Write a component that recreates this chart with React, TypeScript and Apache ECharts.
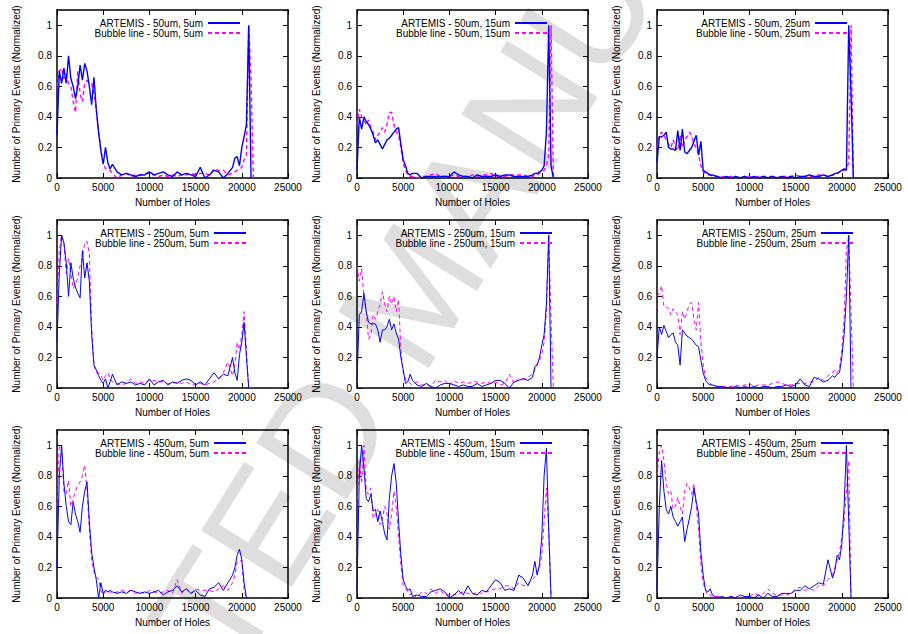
import React, { useEffect, useRef } from 'react';
import * as echarts from 'echarts';

// Number of holes (x values shared by all series)
const HOLES = [
  0, 250, 500, 750, 1000, 1250, 1500, 1750, 2000, 2250, 2500, 2750, 3000, 3250, 3500, 3750, 4000, 4250, 4500, 4750, 5000, 5250, 5500, 5750, 6000,
  6500, 7000, 7500, 8000, 8500, 9000, 9500, 10000, 10500, 11000, 11500, 12000, 12500, 13000, 13500, 14000, 14500, 15000, 15500, 16000, 16500, 17000, 17500, 18000, 18500,
  19000, 19250, 19500, 19750, 20000, 20250, 20500, 20750, 21000, 21250,
];

const DIAMETERS = [50, 250, 450];
const SPACINGS = [5, 15, 25];
const X_MAX = 25000;
const X_STEP = 5000;
const Y_MAX = 1.1;
const Y_STEP = 0.2;

// ---- 50um ----
const a50_5 = [
  0.28, 0.7, 0.62, 0.72, 0.62, 0.8, 0.65, 0.6, 0.52, 0.6, 0.74, 0.64, 0.75, 0.7, 0.6, 0.48, 0.66, 0.45, 0.3, 0.18, 0.09, 0.2, 0.1, 0.06, 0.09,
  0.04, 0.02, 0.03, 0.02, 0.01, 0.02, 0.02, 0.04, 0.02, 0.03, 0.04, 0.02, 0.01, 0.04, 0.02, 0.03, 0.02, 0.01, 0.07, 0.0, 0.02, 0.05, 0.04, 0.0, 0.03,
  0.07, 0.13, 0.14, 0.08, 0.2, 0.27, 0.35, 1.0, 0.0,
];
const b50_5 = [
  0.6, 0.7, 0.72, 0.65, 0.68, 0.62, 0.6, 0.5, 0.43, 0.7, 0.55, 0.5, 0.62, 0.64, 0.63, 0.62, 0.55, 0.45, 0.3, 0.18, 0.1, 0.06, 0.06, 0.05, 0.03,
  0.0, 0.02, 0.03, 0.01, 0.02, 0.02, 0.03, 0.03, 0.02, 0.01, 0.02, 0.01, 0.02, 0.01, 0.02, 0.02, 0.03, 0.02, 0.03, 0.03, 0.02, 0.06, 0.05, 0.05, 0.02,
  0.03, 0.04, 0.05, 0.06, 0.07, 0.12, 0.15, 1.0, 0.65, 0.0,
];
const a50_15 = [
  0.05, 0.4, 0.32, 0.4, 0.37, 0.35, 0.32, 0.28, 0.23, 0.25, 0.22, 0.19, 0.22, 0.25, 0.26, 0.28, 0.3, 0.32, 0.33, 0.22, 0.12, 0.08, 0.03, 0.02, 0.03,
  0.03, 0.0, 0.01, 0.01, 0.01, 0.01, 0.01, 0.01, 0.04, 0.02, 0.01, 0.01, 0.0, 0.02, 0.01, 0.01, 0.01, 0.02, 0.01, 0.02, 0.02, 0.01, 0.01, 0.01, 0.01,
  0.02, 0.03, 0.03, 0.04, 0.05, 0.08, 0.3, 1.0, 0.08, 0.0,
];
const b50_15 = [
  0.35, 0.45, 0.4, 0.38, 0.35, 0.38, 0.33, 0.3, 0.25, 0.28, 0.3, 0.33, 0.3, 0.35, 0.43, 0.43, 0.35, 0.3, 0.28, 0.2, 0.1, 0.05, 0.02, 0.01, 0.01,
  0.0, 0.01, 0.01, 0.02, 0.03, 0.01, 0.01, 0.01, 0.02, 0.01, 0.01, 0.01, 0.02, 0.01, 0.02, 0.02, 0.03, 0.01, 0.01, 0.01, 0.02, 0.02, 0.02, 0.02, 0.01,
  0.01, 0.02, 0.02, 0.03, 0.04, 0.05, 0.08, 0.15, 1.0, 0.0,
];
const a50_25 = [
  0.1, 0.27, 0.27, 0.28, 0.3, 0.2, 0.19, 0.19, 0.18, 0.31, 0.18, 0.32, 0.17, 0.16, 0.18, 0.2, 0.24, 0.28, 0.15, 0.24, 0.05, 0.04, 0.03, 0.02, 0.02,
  0.01, 0.0, 0.01, 0.0, 0.01, 0.0, 0.01, 0.0, 0.01, 0.0, 0.01, 0.0, 0.01, 0.0, 0.01, 0.0, 0.01, 0.0, 0.01, 0.01, 0.02, 0.01, 0.01, 0.02, 0.01,
  0.02, 0.03, 0.03, 0.04, 0.05, 0.06, 0.05, 1.0, 0.55, 0.0,
];
const b50_25 = [
  0.2, 0.28, 0.3, 0.28, 0.25, 0.22, 0.2, 0.25, 0.2, 0.18, 0.28, 0.2, 0.25, 0.27, 0.3, 0.28, 0.22, 0.2, 0.15, 0.08, 0.04, 0.03, 0.02, 0.02, 0.01,
  0.01, 0.01, 0.0, 0.01, 0.01, 0.0, 0.01, 0.01, 0.0, 0.01, 0.01, 0.01, 0.01, 0.0, 0.01, 0.01, 0.01, 0.02, 0.01, 0.01, 0.01, 0.01, 0.02, 0.02, 0.01,
  0.02, 0.02, 0.03, 0.04, 0.04, 0.05, 0.06, 0.1, 1.0, 0.0,
];

// ---- 250um ----
const a250_5 = [
  0.3, 0.75, 1.0, 0.95, 0.82, 0.6, 0.82, 0.72, 0.66, 0.62, 0.59, 0.9, 0.72, 0.82, 0.7, 0.35, 0.15, 0.12, 0.08, 0.05, 0.03, 0.06, 0.0, 0.04, 0.09,
  0.02, 0.04, 0.03, 0.04, 0.02, 0.03, 0.02, 0.06, 0.02, 0.04, 0.05, 0.02, 0.04, 0.03, 0.05, 0.06, 0.05, 0.02, 0.04, 0.02, 0.06, 0.1, 0.06, 0.09, 0.08,
  0.2, 0.1, 0.05, 0.22, 0.3, 0.43, 0.2, 0.0,
];
const b250_5 = [
  0.55, 0.9, 1.0, 0.95, 0.75, 0.85, 0.75, 0.65, 0.68, 0.72, 0.8, 0.85, 0.95, 0.96, 0.88, 0.4, 0.15, 0.1, 0.1, 0.08, 0.05, 0.08, 0.1, 0.06, 0.04,
  0.03, 0.02, 0.03, 0.06, 0.03, 0.04, 0.03, 0.05, 0.05, 0.04, 0.04, 0.03, 0.03, 0.04, 0.03, 0.04, 0.02, 0.02, 0.03, 0.02, 0.03, 0.04, 0.06, 0.1, 0.17,
  0.08, 0.15, 0.3, 0.25, 0.35, 0.5, 0.25, 0.0, 0.0,
];
const a250_15 = [
  0.05, 0.48, 0.5, 0.62, 0.5, 0.43, 0.42, 0.42, 0.42, 0.38, 0.3, 0.38, 0.38, 0.4, 0.45, 0.38, 0.42, 0.36, 0.32, 0.2, 0.12, 0.03, 0.04, 0.09, 0.05,
  0.02, 0.01, 0.03, 0.01, 0.0, 0.02, 0.03, 0.03, 0.02, 0.01, 0.02, 0.01, 0.01, 0.03, 0.01, 0.02, 0.03, 0.05, 0.05, 0.03, 0.0, 0.04, 0.05, 0.06, 0.05,
  0.07, 0.14, 0.15, 0.2, 0.28, 0.35, 0.55, 1.0, 0.0,
];
const b250_15 = [
  0.8, 0.7, 0.78, 0.6, 0.5, 0.32, 0.35, 0.48, 0.45, 0.5, 0.55, 0.63, 0.55, 0.5, 0.6, 0.55, 0.6, 0.5, 0.58, 0.25, 0.1, 0.06, 0.04, 0.03, 0.02,
  0.04, 0.02, 0.02, 0.01, 0.05, 0.04, 0.05, 0.02, 0.05, 0.03, 0.04, 0.03, 0.04, 0.04, 0.03, 0.04, 0.03, 0.04, 0.02, 0.03, 0.09, 0.03, 0.06, 0.06, 0.07,
  0.09, 0.12, 0.16, 0.18, 0.22, 0.3, 0.5, 1.0, 0.45, 0.0,
];
const a250_25 = [
  0.2, 0.4, 0.35, 0.41, 0.37, 0.33, 0.35, 0.36, 0.3, 0.28, 0.15, 0.38, 0.36, 0.34, 0.33, 0.32, 0.3, 0.28, 0.27, 0.18, 0.1, 0.05, 0.03, 0.02, 0.02,
  0.01, 0.01, 0.0, 0.0, 0.01, 0.0, 0.01, 0.0, 0.01, 0.0, 0.01, 0.01, 0.0, 0.01, 0.01, 0.02, 0.01, 0.02, 0.06, 0.02, 0.01, 0.07, 0.06, 0.04, 0.05,
  0.08, 0.07, 0.09, 0.1, 0.2, 0.35, 0.6, 1.0, 0.0,
];
const b250_25 = [
  0.6, 0.62, 0.67, 0.53, 0.53, 0.52, 0.48, 0.52, 0.5, 0.48, 0.35, 0.5, 0.45, 0.5, 0.55, 0.56, 0.45, 0.38, 0.56, 0.3, 0.15, 0.07, 0.05, 0.03, 0.02,
  0.01, 0.01, 0.01, 0.01, 0.02, 0.01, 0.02, 0.03, 0.01, 0.02, 0.02, 0.02, 0.03, 0.04, 0.03, 0.02, 0.02, 0.03, 0.03, 0.03, 0.04, 0.04, 0.07, 0.05, 0.08,
  0.1, 0.12, 0.1, 0.13, 0.25, 0.45, 0.9, 1.0, 0.5, 0.0,
];

// ---- 450um ----
const a450_5 = [
  0.2, 0.8, 1.0, 0.75, 0.6, 0.5, 0.48, 0.63, 0.55, 0.5, 0.43, 0.6, 0.7, 0.76, 0.5, 0.3, 0.2, 0.12, 0.0, 0.1, 0.03, 0.05, 0.04, 0.05, 0.04,
  0.03, 0.04, 0.03, 0.05, 0.04, 0.03, 0.04, 0.03, 0.04, 0.05, 0.02, 0.04, 0.05, 0.08, 0.04, 0.06, 0.03, 0.05, 0.02, 0.01, 0.06, 0.07, 0.1, 0.05, 0.1,
  0.15, 0.2, 0.28, 0.32, 0.25, 0.1, 0.0,
];
const b450_5 = [
  0.6, 1.0, 0.98, 0.7, 0.68, 0.77, 0.6, 0.65, 0.7, 0.74, 0.76, 0.8, 0.87, 0.7, 0.45, 0.25, 0.17, 0.14, 0.12, 0.05, 0.02, 0.05, 0.04, 0.04, 0.03,
  0.04, 0.05, 0.04, 0.05, 0.03, 0.04, 0.03, 0.05, 0.04, 0.03, 0.04, 0.05, 0.03, 0.12, 0.03, 0.06, 0.03, 0.06, 0.05, 0.05, 0.05, 0.04, 0.06, 0.08, 0.05,
  0.1, 0.15, 0.24, 0.24, 0.25, 0.05, 0.0,
];
const a450_15 = [
  0.05, 0.8, 1.0, 0.85, 0.65, 0.63, 0.68, 0.57, 0.58, 0.5, 0.57, 0.5, 0.42, 0.38, 0.65, 0.8, 0.88, 0.75, 0.5, 0.28, 0.12, 0.08, 0.05, 0.06, 0.01,
  0.02, 0.01, 0.01, 0.04, 0.05, 0.06, 0.04, 0.0, 0.02, 0.05, 0.02, 0.08, 0.03, 0.02, 0.05, 0.04, 0.08, 0.12, 0.1, 0.05, 0.06, 0.05, 0.15, 0.13, 0.08,
  0.15, 0.24, 0.15, 0.22, 0.4, 0.8, 0.98, 0.45, 0.0,
];
const b450_15 = [
  0.6, 0.9, 0.75, 1.0, 0.7, 0.68, 0.72, 0.52, 0.55, 0.58, 0.48, 0.52, 0.6, 0.55, 0.45, 0.55, 0.7, 0.6, 0.4, 0.22, 0.08, 0.06, 0.04, 0.02, 0.03,
  0.0, 0.04, 0.03, 0.06, 0.03, 0.05, 0.02, 0.02, 0.02, 0.03, 0.04, 0.03, 0.02, 0.04, 0.03, 0.04, 0.05, 0.06, 0.06, 0.08, 0.08, 0.06, 0.1, 0.08, 0.09,
  0.12, 0.14, 0.18, 0.2, 0.28, 0.5, 0.72, 0.45, 0.0,
];
const a450_25 = [
  0.05, 0.6, 0.9, 0.7, 0.58, 0.55, 0.6, 0.53, 0.5, 0.47, 0.5, 0.53, 0.37, 0.45, 0.52, 0.6, 0.72, 0.63, 0.55, 0.3, 0.15, 0.05, 0.04, 0.06, 0.02,
  0.0, 0.01, 0.0, 0.01, 0.0, 0.02, 0.01, 0.01, 0.0, 0.02, 0.0, 0.03, 0.01, 0.01, 0.03, 0.03, 0.03, 0.05, 0.05, 0.08, 0.06, 0.08, 0.1, 0.09, 0.25,
  0.13, 0.18, 0.28, 0.25, 0.35, 0.6, 1.0, 0.5, 0.0,
];
const b450_25 = [
  0.8, 0.95, 1.0, 0.9, 0.75, 0.68, 0.7, 0.58, 0.6, 0.66, 0.6, 0.55, 0.7, 0.75, 0.72, 0.68, 0.75, 0.6, 0.45, 0.22, 0.1, 0.05, 0.02, 0.02, 0.01,
  0.01, 0.01, 0.0, 0.01, 0.01, 0.0, 0.01, 0.01, 0.03, 0.02, 0.03, 0.06, 0.03, 0.02, 0.02, 0.02, 0.03, 0.06, 0.07, 0.05, 0.06, 0.05, 0.08, 0.08, 0.12,
  0.15, 0.2, 0.25, 0.3, 0.4, 0.5, 0.7, 0.9, 0.0,
];

const ARTEMIS = [
  [a50_5, a50_15, a50_25],
  [a250_5, a250_15, a250_25],
  [a450_5, a450_15, a450_25],
];
const BUBBLE = [
  [b50_5, b50_15, b50_25],
  [b250_5, b250_15, b250_25],
  [b450_5, b450_15, b450_25],
];

// layout
const W = 908;
const H = 634;
const GRID_LEFT = [57, 357, 657];
const GRID_TOP = [10, 220, 430];
const GRID_W = 231;
const GRID_H = 168;
const LEGEND_OFF = [184, 191, 191, 190, 196, 197, 190, 196, 197];
const FONT = "'Liberation Sans', Arial, Helvetica, sans-serif";

function pairs(vals: number[]) {
  const out: number[][] = [];
  HOLES.forEach((x, i) => {
    const v = vals[i];
    if (v !== undefined && v !== null) out.push([x, v]);
  });
  return out;
}

function buildOption() {
  const grid: any[] = [];
  const xAxis: any[] = [];
  const yAxis: any[] = [];
  const series: any[] = [];
  const legend: any[] = [];

  const axisLine = { show: true, onZero: false, lineStyle: { color: '#000', width: 1.5 } };
  const axisTick = { show: true, inside: true, length: 5, lineStyle: { color: '#000', width: 1 } };

  for (let r = 0; r < 3; r++) {
    for (let c = 0; c < 3; c++) {
      const i = r * 3 + c;
      grid.push({ left: GRID_LEFT[c], top: GRID_TOP[r], width: GRID_W, height: GRID_H, containLabel: false });
      const xBase = { gridIndex: i, type: 'value', min: 0, max: X_MAX, interval: X_STEP, splitLine: { show: false }, axisLine, axisTick };
      xAxis.push({
        ...xBase,
        position: 'bottom',
        name: 'Number of Holes',
        nameLocation: 'middle',
        nameGap: 19,
        nameTextStyle: { fontSize: 10, color: '#000', fontFamily: FONT },
        axisLabel: { fontSize: 10, color: '#000', margin: 4, fontFamily: FONT, formatter: (v: number) => String(v) },
      });
      xAxis.push({ ...xBase, position: 'top', axisLabel: { show: false } });
      const yBase = { gridIndex: i, type: 'value', min: 0, max: Y_MAX, interval: Y_STEP, splitLine: { show: false }, axisLine, axisTick };
      yAxis.push({
        ...yBase,
        position: 'left',
        name: 'Number of Primary Events (Normalized)',
        nameLocation: 'middle',
        nameGap: 36,
        nameRotate: 90,
        nameTextStyle: { fontSize: 10, color: '#000', fontFamily: FONT },
        axisLabel: {
          fontSize: 10,
          color: '#000',
          margin: 5,
          fontFamily: FONT,
          showMaxLabel: false,
          formatter: (v: number) => (v > 1.05 ? '' : String(Math.round(v * 10) / 10)),
        },
      });
      yAxis.push({ ...yBase, position: 'right', axisLabel: { show: false } });

      const nameA = `ARTEMIS - ${DIAMETERS[r]}um, ${SPACINGS[c]}um`;
      const nameB = `Bubble line - ${DIAMETERS[r]}um, ${SPACINGS[c]}um`;
      const lw = r === 0 ? 1.4 : 1;
      series.push({
        name: nameA,
        type: 'line',
        xAxisIndex: i * 2,
        yAxisIndex: i * 2,
        symbol: 'none',
        data: pairs(ARTEMIS[r][c]),
        lineStyle: { color: '#0000ff', width: lw, type: 'solid' },
        itemStyle: { color: '#0000ff' },
        z: 3,
      });
      series.push({
        name: nameB,
        type: 'line',
        xAxisIndex: i * 2,
        yAxisIndex: i * 2,
        symbol: 'none',
        data: pairs(BUBBLE[r][c]),
        lineStyle: { color: '#ff00ff', width: lw, type: [4, 3] },
        itemStyle: { color: '#ff00ff' },
        z: 2,
      });
      legend.push({
        orient: 'vertical',
        align: 'right',
        right: W - (GRID_LEFT[c] + LEGEND_OFF[i]),
        top: GRID_TOP[r] + 8,
        itemWidth: 32,
        itemHeight: 10,
        itemGap: 0,
        padding: 0,
        selectedMode: false,
        itemStyle: { opacity: 0, borderWidth: 0 },
        textStyle: { fontSize: 10, color: '#000', fontFamily: FONT, lineHeight: 10 },
        data: [nameA, nameB],
      });
    }
  }

  return {
    animation: false,
    backgroundColor: '#fff',
    textStyle: { fontFamily: FONT },
    grid,
    xAxis,
    yAxis,
    series,
    legend,
    graphic: {
      elements: [
        {
          type: 'text',
          x: 413,
          y: 292,
          rotation: (58 * Math.PI) / 180,
          z: -10,
          silent: true,
          style: {
            text: 'ACCEPTED MANUSCRIPT',
            fontSize: 155,
            fontFamily: FONT,
            fill: '#dedede',
            align: 'center',
            verticalAlign: 'middle',
          },
        },
      ],
    },
  };
}

export default function App() {
  const ref = useRef<HTMLDivElement>(null);
  useEffect(() => {
    if (!ref.current) return;
    const chart = echarts.init(ref.current, undefined, { renderer: 'svg', width: W, height: H });
    chart.setOption(buildOption() as any);
    return () => chart.dispose();
  }, []);
  return <div ref={ref} style={{ position: 'absolute', left: 0, top: 0, width: W, height: H }} />;
}
